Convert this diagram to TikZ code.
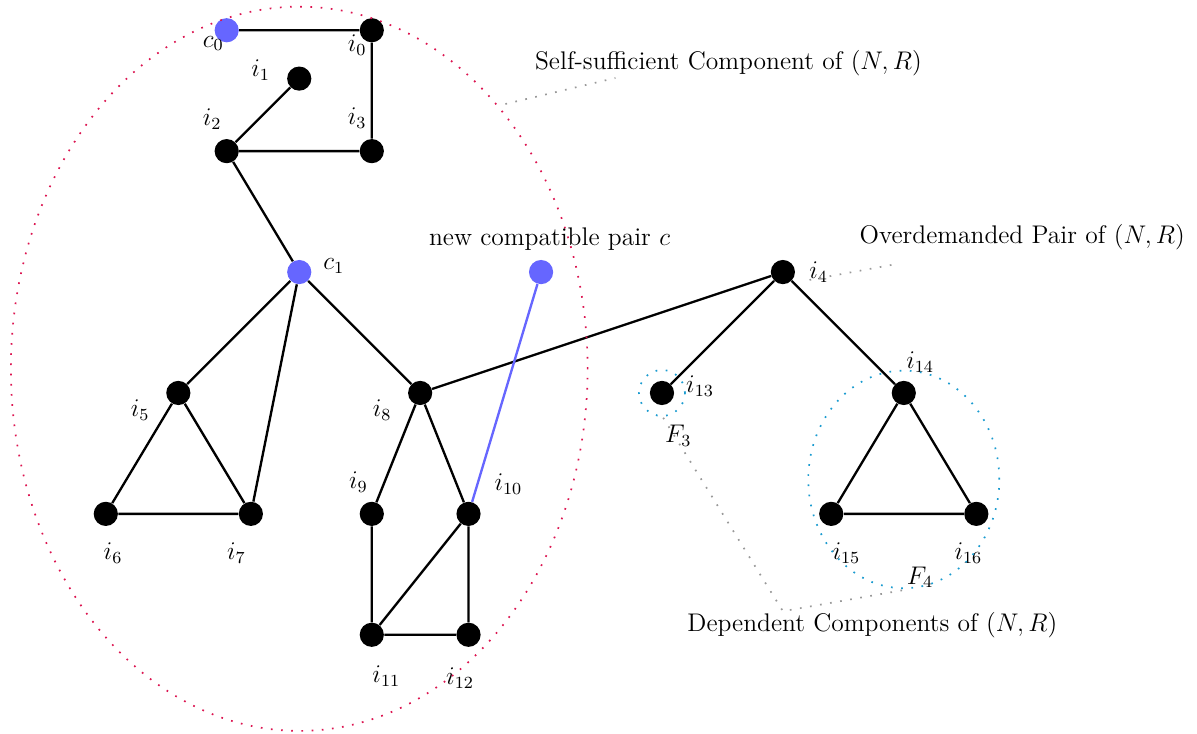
\documentclass[tikz,border=0pt,12pt]{standalone}
\usepackage{amsmath}
\usepackage{tikz}
\usetikzlibrary{positioning}
\definecolor{Crimson}{HTML}{DC1450}
\definecolor{Teal}{HTML}{1A9BD0}

\begin{document}
\begin{tikzpicture}[
  vtx/.style={circle, fill=black, minimum size=0.4cm, inner sep=0pt},
  cpair/.style={vtx, fill=blue!60},
  lbl/.style={inner sep=0pt},
  edge/.style={line width=1.1pt},
  newedge/.style={line width=1.1pt, blue!60},
  comp/.style={draw=Crimson, thick, loosely dotted},
  dep/.style={draw=Teal, thick, loosely dotted},
  note/.style={gray!80, thick, loosely dotted},
]
\useasboundingbox (-4.95,-7.64) rectangle (14.85,4.5);

% vertices
\node[cpair] (c0) at (-1.2,4) {};
\node[vtx] (i0) at (1.2,4) {};
\node[vtx] (i1) at (0,3.2) {};
\node[vtx] (i2) at (-1.2,2) {};
\node[vtx] (i3) at (1.2,2) {};
\node[cpair] (c1) at (0,0) {};
\node[cpair] (c) at (4,0) {};
\node[vtx] (i4) at (8,0) {};
\node[vtx] (i5) at (-2,-2) {};
\node[vtx] (i8) at (2,-2) {};
\node[vtx] (i13) at (6,-2) {};
\node[vtx] (i14) at (10,-2) {};
\node[vtx] (i6) at (-3.2,-4) {};
\node[vtx] (i7) at (-0.8,-4) {};
\node[vtx] (i9) at (1.2,-4) {};
\node[vtx] (i10) at (2.8,-4) {};
\node[vtx] (i15) at (8.8,-4) {};
\node[vtx] (i16) at (11.2,-4) {};
\node[vtx] (i11) at (1.2,-6) {};
\node[vtx] (i12) at (2.8,-6) {};

% labels
\node[lbl] (l-c0) at (-1.42,3.78) {$c_0$};
\node[lbl] (l-i0) at (0.96,3.76) {$i_0$};
\node[lbl] (l-i1) at (-0.64,3.34) {$i_1$};
\node[lbl] (l-i2) at (-1.44,2.53) {$i_2$};
\node[lbl] (l-i3) at (0.96,2.55) {$i_3$};
\node[lbl] (l-c1) at (0.57,0.10) {$c_1$};
\node[lbl] (l-i4) at (8.59,0.0) {$i_4$};
\node[lbl] (l-i5) at (-2.63,-2.28) {$i_5$};
\node[lbl] (l-i6) at (-3.08,-4.65) {$i_6$};
\node[lbl] (l-i7) at (-1.04,-4.65) {$i_7$};
\node[lbl] (l-i8) at (1.37,-2.28) {$i_8$};
\node[lbl] (l-i9) at (0.98,-3.47) {$i_9$};
\node[lbl] (l-i10) at (3.46,-3.51) {$i_{10}$};
\node[lbl] (l-i11) at (1.44,-6.68) {$i_{11}$};
\node[lbl] (l-i12) at (2.66,-6.72) {$i_{12}$};
\node[lbl] (l-i13) at (6.63,-1.89) {$i_{13}$};
\node[lbl] (l-i14) at (10.27,-1.49) {$i_{14}$};
\node[lbl] (l-i15) at (9.05,-4.65) {$i_{15}$};
\node[lbl] (l-i16) at (11.07,-4.65) {$i_{16}$};
\node[lbl] (l-F3) at (6.27,-2.71) {$F_3$};
\node[lbl] (l-F4) at (10.27,-5.05) {$F_4$};

% edges
\draw[edge] (c0) -- (i0) -- (i3) -- (i2) -- (i1);
\draw[edge] (i2) -- (c1);
\draw[edge] (c1) -- (i5);
\draw[edge] (c1) -- (i7);
\draw[edge] (c1) -- (i8);
\draw[edge] (i5) -- (i6) -- (i7) -- (i5);
\draw[edge] (i8) -- (i9) -- (i11) -- (i12) -- (i10) -- (i8);
\draw[edge] (i10) -- (i11);
\draw[edge] (i8) -- (i4);
\draw[edge] (i4) -- (i13);
\draw[edge] (i4) -- (i14);
\draw[edge] (i14) -- (i15) -- (i16) -- (i14);
\draw[newedge] (c) -- (i10);

% components
\draw[comp] (0,-1.6) ellipse (4.77 and 5.99);
\draw[dep] (i13) circle (0.38);
\draw[dep] (10,-3.43) ellipse (1.58 and 1.8);

% notes
\node (newnote) at (4.14,0.55) {new compatible pair $c$};
\node (ssnote) at (7.10,3.46) {Self-sufficient Component of $(N,R)$};
\node (odnote) at (11.96,0.58) {Overdemanded Pair of $(N,R)$};
\node (depnote) at (9.48,-5.84) {Dependent Components of $(N,R)$};
\coordinate (ss-a) at (3.41,2.78);
\coordinate (ss-b) at (5.23,3.21);
\coordinate (od-a) at (8.44,-0.13);
\coordinate (od-b) at (9.81,0.12);
\coordinate (dep-a) at (6.02,-2.41);
\coordinate (dep-m) at (8.0,-5.61);
\coordinate (dep-b) at (10.0,-5.26);
\draw[note] (ss-a) -- (ss-b);
\draw[note] (od-a) -- (od-b);
\draw[note] (dep-a) -- (dep-m) -- (dep-b);
\end{tikzpicture}
\end{document}
